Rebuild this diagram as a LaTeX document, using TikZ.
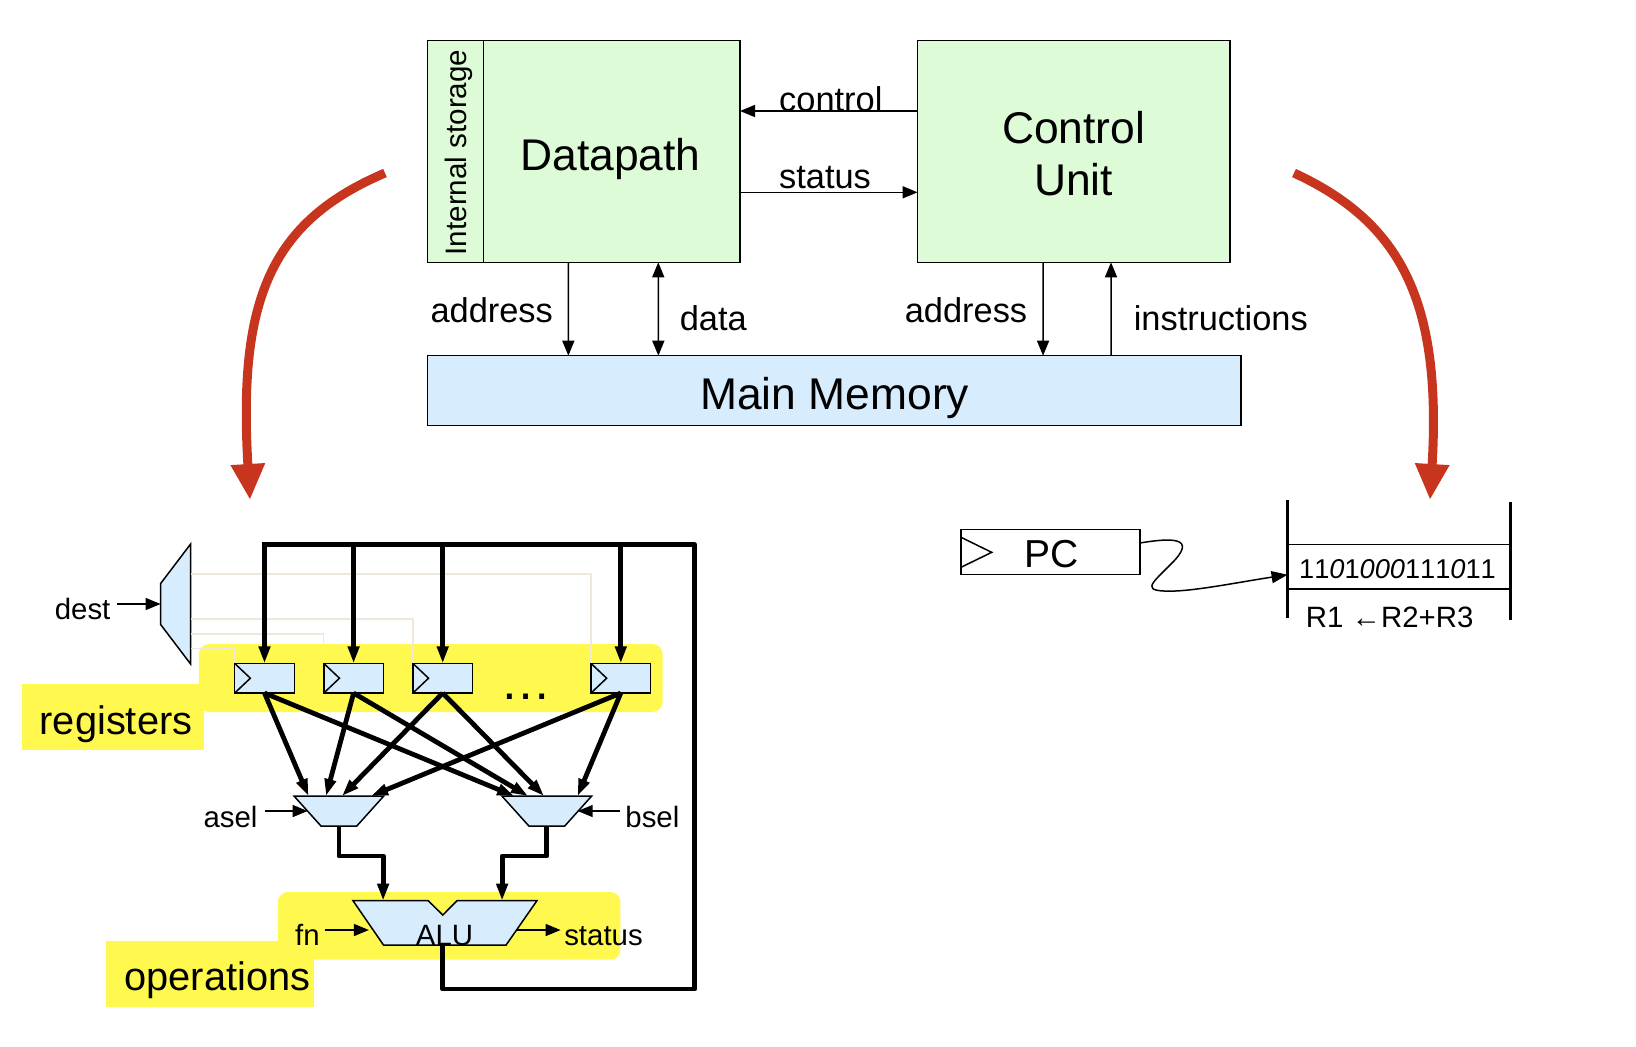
\documentclass[tikz,border=0pt]{standalone}
\usepackage{fontspec}
\setmainfont{Liberation Sans}
\usepackage{tikz}
\usetikzlibrary{arrows.meta,positioning,calc,shapes.geometric}
\definecolor{softgreen}{RGB}{221,251,214}
\definecolor{softblue}{RGB}{215,236,252}
\definecolor{hiyellow}{RGB}{255,249,79}
\definecolor{brickred}{RGB}{200,53,30}
\definecolor{wirebeige}{RGB}{240,232,220}

\begin{document}
\begin{tikzpicture}[
  x=0.5pt, y=-0.5pt,
  bigtext/.style={anchor=base, inner sep=0, font=\fontsize{22.2}{26}\selectfont},
  midtext/.style={anchor=base, inner sep=0, font=\fontsize{17.2}{20}\selectfont},
  smalltext/.style={anchor=base, inner sep=0, font=\fontsize{14.7}{17}\selectfont},
  hitext/.style={anchor=base, inner sep=0, font=\fontsize{19.9}{23}\selectfont},
  greenbox/.style={draw, line width=0.75pt, fill=softgreen, inner sep=0, outer sep=0, minimum height=110.8pt},
  bluebox/.style={draw, line width=0.75pt, fill=softblue, inner sep=0, outer sep=0},
  regbox/.style={bluebox, minimum width=29.85pt, minimum height=14.85pt},
  muxbox/.style={bluebox, trapezium, inner sep=1pt, trapezium stretches=true, shape border rotate=180, trapezium angle=53, minimum width=44.9pt, minimum height=15pt},
  hilite/.style={fill=hiyellow, draw=none, inner sep=0, outer sep=0},
  arr/.style={-{Triangle[length=7.5pt,width=6pt]}, line width=0.75pt},
  dblarr/.style={{Triangle[length=7.5pt,width=6pt]}-{Triangle[length=7.5pt,width=6pt]}, line width=0.75pt},
  bus/.style={line width=2.4pt, line join=round},
  busarr/.style={bus, -{Triangle[length=8.5pt,width=5.5pt]}},
  sel/.style={draw=wirebeige, line width=0.7pt},
  redarr/.style={draw=brickred, line width=4.5pt, -{Triangle[length=18pt,width=16pt,fill=brickred]}}
]
\useasboundingbox (0,0) rectangle (1636,1046);

% top block
\node[greenbox, minimum width=28pt] (store) at (455.3,151.5) {};
\node[greenbox, minimum width=128.35pt, right=0pt of store] (dp) {};
\node[greenbox, minimum width=156.2pt] (cu) at (1073.8,151.5) {};
\node[bluebox, minimum width=406.85pt, minimum height=35pt] (mem) at (834.2,390.7) {};
\node[smalltext, rotate=90, font=\fontsize{14.8}{17}\selectfont] (storelabel) at (466.7,152.5) {Internal storage};
\node[bigtext] (dplabel) at (610.5,170) {Datapath};
\node[bigtext, align=center, anchor=center] (culabel) at (1073.6,153.5) {Control\\Unit};
\node[bigtext] (memlabel) at (834.7,409) {Main Memory};

\draw[arr] ($(cu.west)+(0,-40.5)$) -- ($(dp.east)+(0,-40.5)$);
\draw[arr] ($(dp.east)+(0,40.8)$) -- ($(cu.west)+(0,40.8)$);
\draw[arr] ($(dp.south)+(-43.4,0)$) -- ($(mem.north west)+(141,0)$);
\draw[dblarr] ($(dp.south)+(46.6,0)$) -- ($(mem.north west)+(231,0)$);
\draw[arr] ($(cu.south)+(-30.8,0)$) -- ($(mem.north west)+(615.7,0)$);
\draw[arr] ($(mem.north west)+(683.7,0)$) -- ($(cu.south)+(37.2,0)$);

\node[midtext] (ctl) at (830.8,111) {control};
\node[midtext] (sts) at (825,188.3) {status};
\node[midtext] (addra) at (491.7,322.5) {address};
\node[midtext] (datal) at (713.3,330.5) {data};
\node[midtext] (addrb) at (966,322.5) {address};
\node[midtext] (instr) at (1220.8,330) {instructions};

% red arrows
\coordinate (leftfrom) at (385,173);
\coordinate (leftto) at (250,500);
\coordinate (rightfrom) at (1294,173);
\coordinate (rightto) at (1430,500);
\draw[redarr] (leftfrom) .. controls (270,222) and (238,300) .. (leftto);
\draw[redarr] (rightfrom) .. controls (1400,222) and (1442,300) .. (rightto);

% yellow highlights
\fill[hilite, rounded corners=5pt] (198.8,644) rectangle (662.5,712);
\node[hilite, minimum width=91pt, minimum height=33pt] (reghi) at (113,717) {};
\fill[hilite, rounded corners=5pt] (277.9,892) rectangle (620.4,959.7);
\node[hilite, minimum width=103.8pt, minimum height=32.85pt] (ophi) at (209.7,973.8) {};
\node[hitext] (reglabel) at (116,734) {registers};
\node[hitext] (oplabel) at (217.5,990) {operations};

% registers
\node[regbox] (ra) at (264.5,678.2) {};
\node[regbox, right=14.7pt of ra] (rb) {};
\node[regbox, right=14.7pt of rb] (rc) {};
\node[regbox] (rd) at (620.8,678.2) {};
\foreach \r in {ra,rb,rc,rd} {
  \draw[line width=0.75pt] (\r.north west) -- ($(\r.west)+(15.7,0)$) -- (\r.south west);
}
\node[inner sep=0, anchor=base, font=\fontsize{25.5}{30}\selectfont] (dots) at (526,699) {…};

% dest mux and its select lines
\node[bluebox, trapezium, inner sep=1pt, trapezium stretches=true, rotate=90, trapezium angle=46, minimum width=60pt, minimum height=15pt] (dest) at (175.6,604) {};
\draw[sel] ($(dest.south)+(0,-30)$) -| (rd.north west);
\draw[sel] ($(dest.south)+(0,15)$) -| (rc.north west);
\draw[sel] ($(dest.south)+(0,30)$) -| (rb.north west);
\draw[sel] ($(dest.south)+(0,44.3)$) -| (ra.north west);
\node[smalltext] (destlabel) at (82.6,619.5) {dest};
\coordinate (destfrom) at (117,604);
\draw[arr] (destfrom) -- (dest.north);

% muxes
\node[muxbox] (amux) at (338.9,811) {};
\node[muxbox] (bmux) at (546.8,811) {};
\node[smalltext] (asel) at (230.5,827) {asel};
\node[smalltext] (bsel) at (652.4,827) {bsel};
\coordinate (aselfrom) at (264.9,811);
\coordinate (bselfrom) at (620.4,811);
\draw[arr] (aselfrom) -- (307.6,811);
\draw[arr] (bselfrom) -- (577.7,811);

% alu
\draw[bluebox] (353,900.7) coordinate (alua) -- (428.2,900.7) -- (442.8,915) -- (457,900.7) -- (536.9,900.7) -- (506.1,945) -- (442.8,945) coordinate (aluout) -- (383.5,945) -- cycle;
\node[smalltext] (alulabel) at (444.5,945) {ALU};
\node[smalltext] (fnlabel) at (307.5,945) {fn};
\node[smalltext] (stslabel) at (603.5,945) {status};
\coordinate (fnfrom) at (324.6,930);
\coordinate (stsfrom) at (517.2,930);
\draw[arr] (fnfrom) -- (368.9,930);
\draw[arr] (stsfrom) -- (560.6,930);

% buses
\coordinate (bustop) at (264.5,544.7);
\draw[bus, line cap=rect] (aluout) -- (442.8,989) -- (694.7,989) -- (694.7,544.7) -- (bustop);
\foreach \r in {ra,rb,rc,rd} {
  \draw[busarr] (bustop -| \r.north) -- (\r.north);
}
\draw[busarr] (ra.south) -- ($(amux.north)+(-30.4,0)$);
\draw[busarr] (ra.south) -- ($(bmux.north)+(-32.6,0)$);
\draw[busarr] (rb.south) -- ($(amux.north)+(-12.9,0)$);
\draw[busarr] (rb.south) -- ($(bmux.north)+(-18.8,0)$);
\draw[busarr] (rc.south) -- ($(amux.north)+(3.1,0)$);
\draw[busarr] (rc.south) -- ($(bmux.north)+(-2.8,0)$);
\draw[busarr] (rd.south) -- ($(amux.north)+(32.1,0)$);
\draw[busarr] (rd.south) -- ($(bmux.north)+(30.8,0)$);
\draw[busarr] (amux.south) -- (338.9,856) -- (383.1,856) -- (383.1,900.7);
\draw[busarr] (bmux.south) -- (546.8,856) -- (502.1,856) -- (502.1,900.7);

% pc and instruction
\node[bluebox, fill=white, minimum width=89.4pt, minimum height=22.7pt] (pc) at (1050.4,552) {};
\draw[line width=0.75pt] (961,537.3) -- (991.7,552.3) -- (961,567.3);
\node[inner sep=0, anchor=base, font=\fontsize{19.5}{23}\selectfont] (pclabel) at (1051.5,567.3) {PC};
\node[draw, line width=0.75pt, inner sep=0, outer sep=0, minimum width=111.35pt, minimum height=22.35pt] (word) at (1398.9,566.7) {};
\coordinate (wa) at (1287.5,500);
\coordinate (wb) at (1287.5,618.3);
\coordinate (wc) at (1510.2,502);
\coordinate (wd) at (1510.2,620);
\draw[line width=1.5pt] (wa) -- (wb);
\draw[line width=1.5pt] (wc) -- (wd);
\node[inner sep=0, anchor=base, font=\fontsize{13.6}{16}\selectfont\addfontfeatures{Kerning=Off}] (bits) at (1397.5,578.3) {11\textit{0}1\textit{000}111\textit{0}11};
\node[smalltext] (rtl) at (1389.7,627.5) {R1 ←R2+R3};
\draw[-{Triangle[length=8pt,width=6pt]}, line width=0.75pt] ($(pc.east)+(0,-9)$) .. controls (1170,538) and (1200,536) .. (1170,565) .. controls (1150,585) and (1140,592) .. (1175,591) .. controls (1200,590) and (1240,582) .. ($(word.west)+(0,8)$);
\end{tikzpicture}
\end{document}
